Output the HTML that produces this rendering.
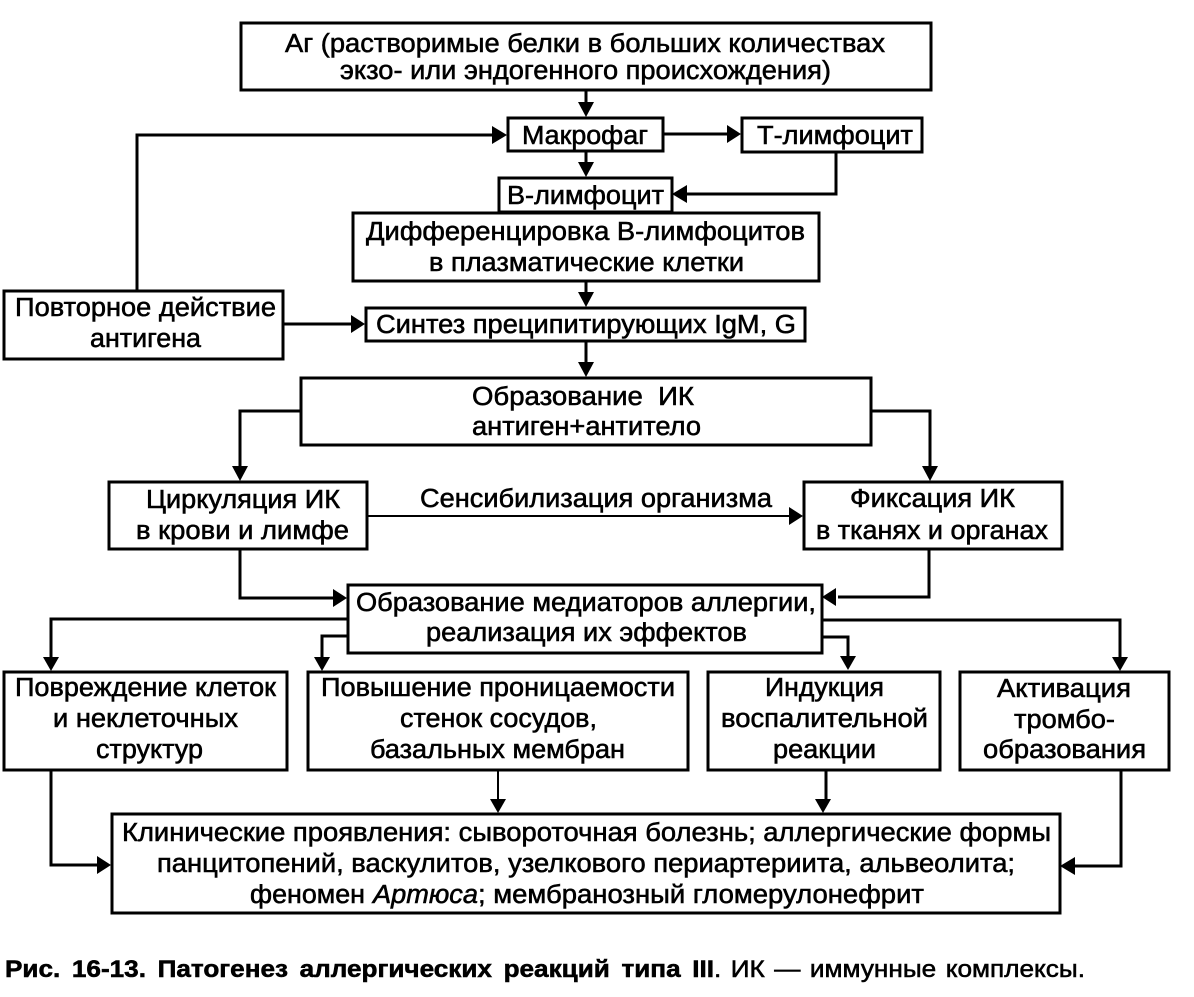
<!DOCTYPE html>
<html><head><meta charset="utf-8">
<style>
html,body{margin:0;padding:0;background:#fff;width:1194px;height:997px;overflow:hidden}
svg{display:block}
text{font-family:"Liberation Sans",sans-serif;font-size:25.5px;fill:#000;stroke:#000;stroke-width:.55px}
.c{font-size:24px}
.b{font-weight:bold;word-spacing:4px}
.r{word-spacing:2px}
.i{font-style:italic}
rect{fill:#fff;stroke:#000;stroke-width:3}
path.l{fill:none;stroke:#000;stroke-width:3}
polygon{fill:#000}
</style></head><body>
<svg width="1194" height="997" viewBox="0 0 1194 997" xmlns="http://www.w3.org/2000/svg">
<rect width="1194" height="997" style="fill:#fff;stroke:none"/>
<!-- connectors -->
<path class="l" d="M586 91V105M137 290V135H495M664 134H730M586 152V165M836 153V194H686M586 282V295M283 324H353M586 342V365M300 411H240V468M871 411H930V468M240 550V598H333M929 550V597H838M347 619H51V657M347 636H322V657M822 637H848V657M822 620H1120V657M51 770V865H97M826 770V799M1121 770V866H1075"/>
<path class="l" style="stroke-width:2" d="M368 516H790M498 770V799"/>
<!-- arrowheads -->
<polygon points="578,102 594,102 586,117"/>
<polygon points="492,126 492,144 507,135"/>
<polygon points="727,125 727,143 741,134"/>
<polygon points="578,162 594,162 586,177"/>
<polygon points="687,185 687,203 672,194"/>
<polygon points="578,292 594,292 586,307"/>
<polygon points="351,315 351,333 365,324"/>
<polygon points="578,362 594,362 586,377"/>
<polygon points="232,466 248,466 240,481"/>
<polygon points="922,466 938,466 930,481"/>
<polygon points="789,507 789,525 803,516"/>
<polygon points="333,589 333,607 347,598"/>
<polygon points="836,588 836,606 822,597"/>
<polygon points="43,657 59,657 51,671"/>
<polygon points="314,657 330,657 322,671"/>
<polygon points="840,656 856,656 848,670"/>
<polygon points="1112,657 1128,657 1120,671"/>
<polygon points="97,856 97,874 111,865"/>
<polygon points="490,799 506,799 498,813"/>
<polygon points="815,799 831,799 823,813"/>
<polygon points="1075,857 1075,875 1060,866"/>
<!-- boxes -->
<rect x="241" y="23" width="690" height="67"/>
<rect x="508" y="118" width="155" height="33"/>
<rect x="742" y="118" width="180" height="34"/>
<rect x="499" y="178" width="173" height="34"/>
<rect x="353" y="213" width="466" height="68"/>
<rect x="4" y="291" width="279" height="68"/>
<rect x="366" y="308" width="439" height="33"/>
<rect x="301" y="378" width="570" height="67"/>
<rect x="109" y="482" width="258" height="67"/>
<rect x="804" y="482" width="258" height="67"/>
<rect x="348" y="585" width="474" height="68"/>
<rect x="4" y="672" width="283" height="98"/>
<rect x="308" y="672" width="380" height="98"/>
<rect x="708" y="672" width="232" height="98"/>
<rect x="960" y="672" width="209" height="98"/>
<rect x="112" y="814" width="948" height="99"/>
<!-- labels -->
<text x="285" y="52" textLength="600" lengthAdjust="spacingAndGlyphs">Аг (растворимые белки в больших количествах</text>
<text x="340" y="79" textLength="491" lengthAdjust="spacingAndGlyphs">экзо- или эндогенного происхождения)</text>
<text x="522" y="144" textLength="126" lengthAdjust="spacingAndGlyphs">Макрофаг</text>
<text x="757" y="144" textLength="156" lengthAdjust="spacingAndGlyphs">Т-лимфоцит</text>
<text x="507" y="204" textLength="157" lengthAdjust="spacingAndGlyphs">В-лимфоцит</text>
<text x="366" y="240" textLength="439" lengthAdjust="spacingAndGlyphs">Дифференцировка В-лимфоцитов</text>
<text x="429" y="271" textLength="315" lengthAdjust="spacingAndGlyphs">в плазматические клетки</text>
<text x="15" y="316" textLength="261" lengthAdjust="spacingAndGlyphs">Повторное действие</text>
<text x="90" y="347" textLength="111" lengthAdjust="spacingAndGlyphs">антигена</text>
<text x="376" y="333" textLength="420" lengthAdjust="spacingAndGlyphs">Синтез преципитирующих IgM, G</text>
<text x="472" y="405" textLength="222" lengthAdjust="spacingAndGlyphs" xml:space="preserve">Образование  ИК</text>
<text x="472" y="435" textLength="229" lengthAdjust="spacingAndGlyphs">антиген+антитело</text>
<text x="146" y="508" textLength="194" lengthAdjust="spacingAndGlyphs">Циркуляция ИК</text>
<text x="136" y="539" textLength="213" lengthAdjust="spacingAndGlyphs">в крови и лимфе</text>
<text x="420" y="507" textLength="352" lengthAdjust="spacingAndGlyphs">Сенсибилизация организма</text>
<text x="850" y="507" textLength="165" lengthAdjust="spacingAndGlyphs">Фиксация ИК</text>
<text x="816" y="539" textLength="232" lengthAdjust="spacingAndGlyphs">в тканях и органах</text>
<text x="356" y="611" textLength="460" lengthAdjust="spacingAndGlyphs">Образование медиаторов аллергии,</text>
<text x="426" y="641" textLength="321" lengthAdjust="spacingAndGlyphs">реализация их эффектов</text>
<text x="15" y="696" textLength="261" lengthAdjust="spacingAndGlyphs">Повреждение клеток</text>
<text x="53" y="727" textLength="185" lengthAdjust="spacingAndGlyphs">и неклеточных</text>
<text x="96" y="758" textLength="107" lengthAdjust="spacingAndGlyphs">структур</text>
<text x="321" y="696" textLength="354" lengthAdjust="spacingAndGlyphs">Повышение проницаемости</text>
<text x="400" y="727" textLength="197" lengthAdjust="spacingAndGlyphs">стенок сосудов,</text>
<text x="370" y="758" textLength="255" lengthAdjust="spacingAndGlyphs">базальных мембран</text>
<text x="765" y="696" textLength="119" lengthAdjust="spacingAndGlyphs">Индукция</text>
<text x="721" y="727" textLength="207" lengthAdjust="spacingAndGlyphs">воспалительной</text>
<text x="773" y="758" textLength="103" lengthAdjust="spacingAndGlyphs">реакции</text>
<text x="997" y="697" textLength="134" lengthAdjust="spacingAndGlyphs">Активация</text>
<text x="1014" y="728" textLength="101" lengthAdjust="spacingAndGlyphs">тромбо-</text>
<text x="983" y="758" textLength="163" lengthAdjust="spacingAndGlyphs">образования</text>
<text x="122" y="841" textLength="929" lengthAdjust="spacingAndGlyphs">Клинические проявления: сывороточная болезнь; аллергические формы</text>
<text x="157" y="872" textLength="858" lengthAdjust="spacingAndGlyphs">панцитопений, васкулитов, узелкового периартериита, альвеолита;</text>
<text x="250" y="903" textLength="115" lengthAdjust="spacingAndGlyphs">феномен</text>
<text class="i" x="373" y="903" textLength="105" lengthAdjust="spacingAndGlyphs">Артюса</text>
<text x="478" y="903" textLength="446" lengthAdjust="spacingAndGlyphs">; мембранозный гломерулонефрит</text>
<text class="c b" x="5" y="977" textLength="709" lengthAdjust="spacingAndGlyphs">Рис. 16-13. Патогенез аллергических реакций типа III</text>
<text class="c r" x="714" y="977" textLength="371" lengthAdjust="spacingAndGlyphs">. ИК — иммунные комплексы.</text>
</svg>
</body></html>
